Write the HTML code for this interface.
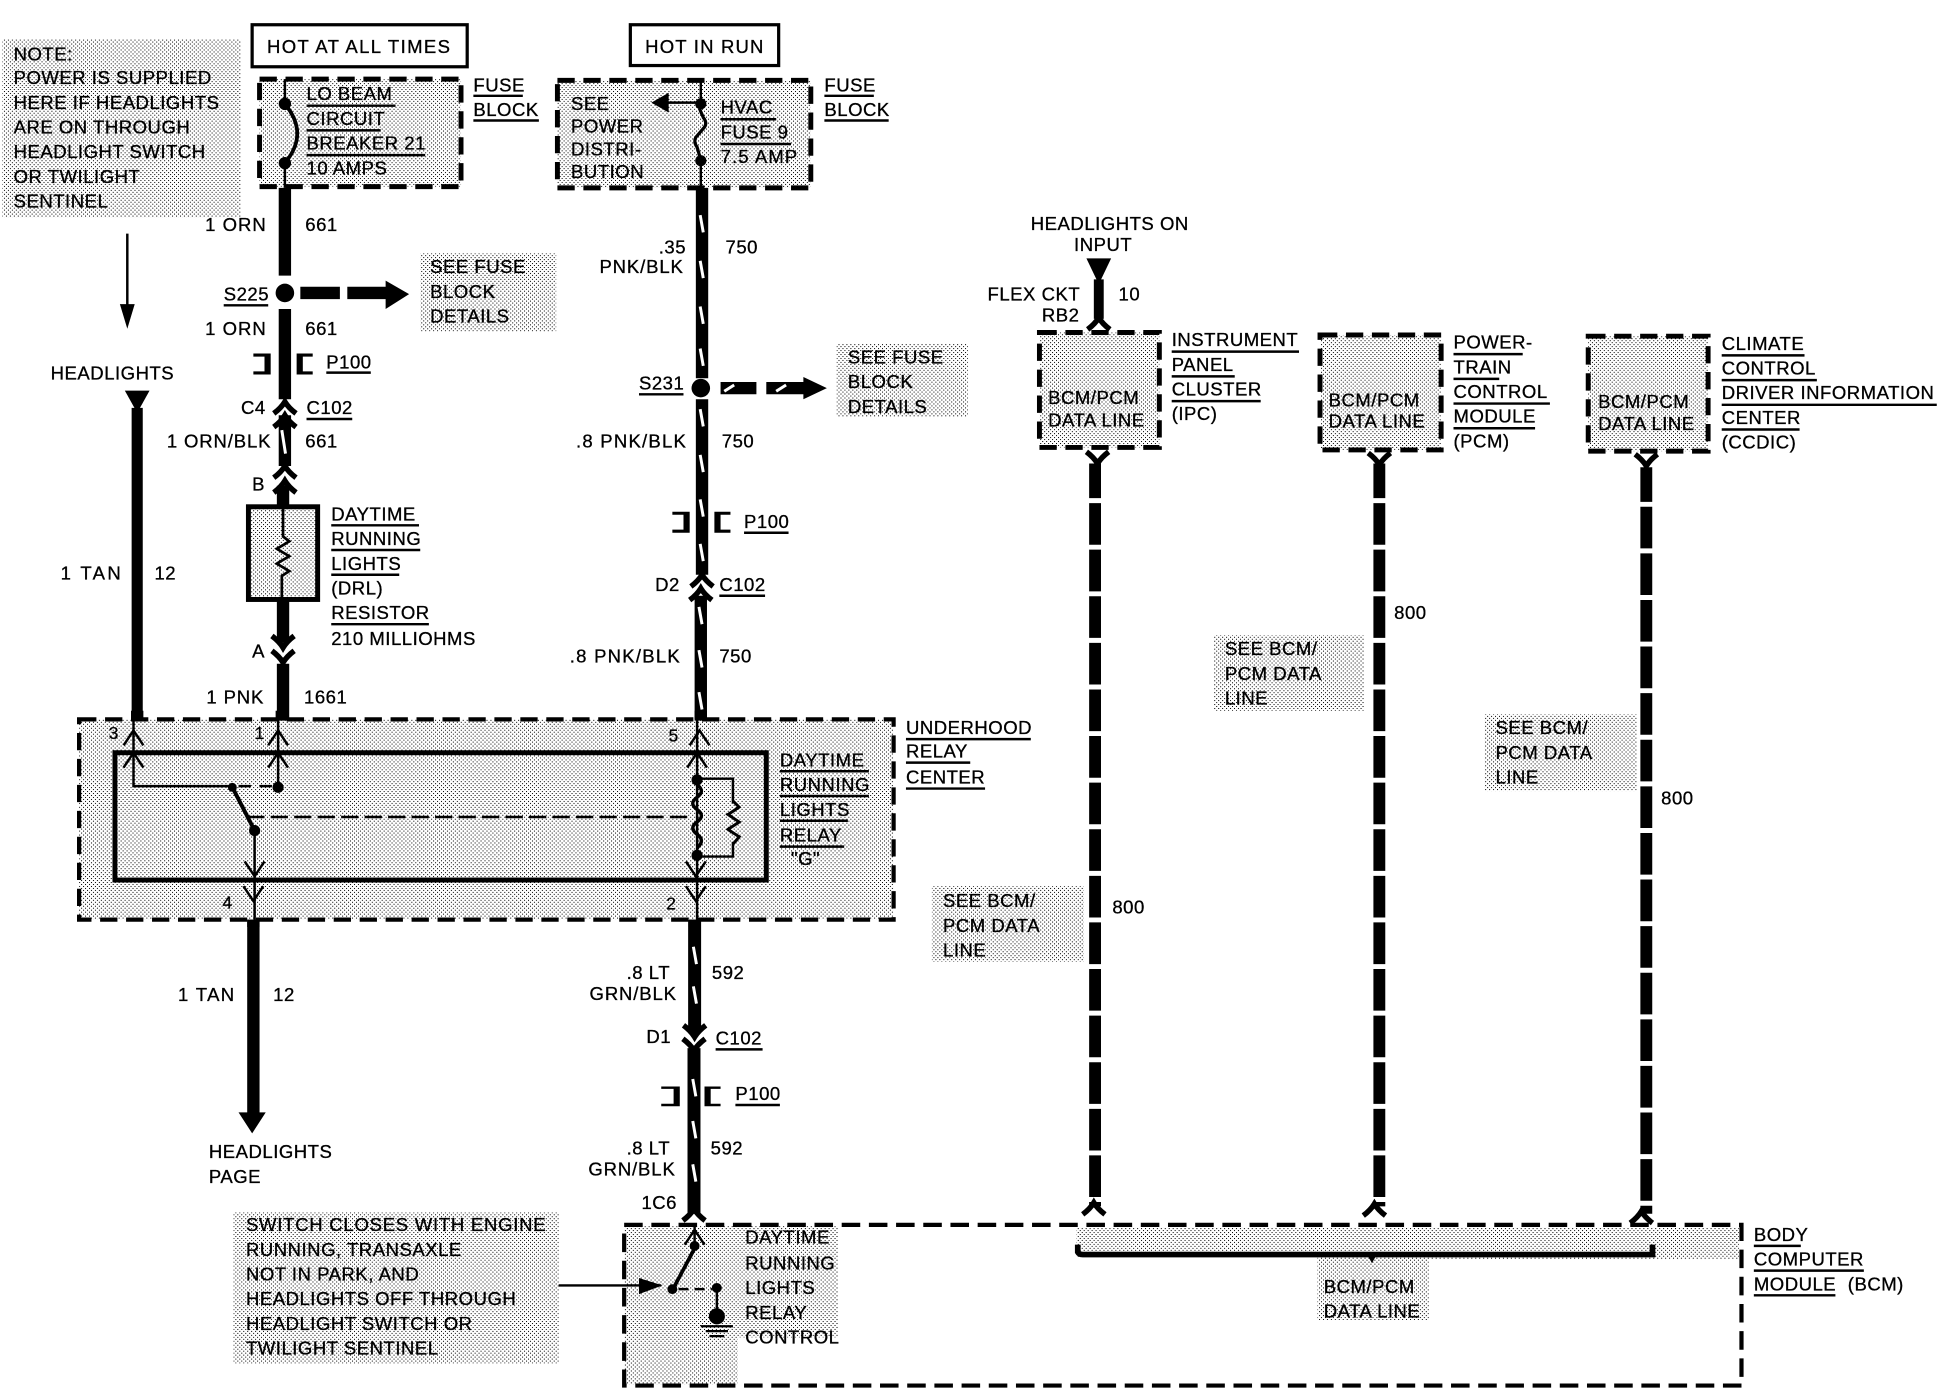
<!DOCTYPE html>
<html><head><meta charset="utf-8"><style>
html,body{margin:0;padding:0;background:#fff}
svg{display:block}
text{font-family:"Liberation Sans",sans-serif;font-size:15px;letter-spacing:.42px;fill:#000;stroke:#000;stroke-width:.25px}
.u{fill:none;stroke:#000;stroke-width:2}
.n{fill:none;stroke:#000;stroke-width:2}
.d{fill:url(#st);stroke:#000;stroke-width:4;stroke-dasharray:14 7}
.s{fill:url(#st)}
.w{fill:none;stroke:#000;stroke-width:10}
.sl{fill:none;stroke:#fff;stroke-width:2.4}
.dl{fill:none;stroke:#000;stroke-width:9.6;stroke-dasharray:33.7 4;stroke-dashoffset:5.7}
</style></head><body>
<svg xmlns="http://www.w3.org/2000/svg" width="1938" height="1392" viewBox="0 0 1568 1126.2">
<defs>
<pattern id="st" width="3.2" height="3.2" patternUnits="userSpaceOnUse"><rect width="3.2" height="3.2" fill="#fff"/><rect width=".82" height=".82" fill="#000"/><rect x="1.6" y="1.6" width=".82" height=".82" fill="#000"/></pattern>
<path id="up" d="M-9 5.5Q-3 1 0-4Q3 1 9 5.5" fill="none" stroke="#000" stroke-width="4.4"/>
<path id="dn" d="M-9-5.5Q-3-1 0 4Q3-1 9-5.5" fill="none" stroke="#000" stroke-width="4.4"/>
<path id="tu" d="M-8 7L0-5L8 7" fill="none" stroke="#000" stroke-width="2"/>
<path id="td" d="M-8-7L0 5L8-7" fill="none" stroke="#000" stroke-width="2"/>
</defs>
<rect width="1568" height="1126.2" fill="#fff"/>

<!-- stipple blocks -->
<rect class="s" x="2" y="32" width="193" height="144"/>
<rect class="s" x="340" y="205" width="110" height="63"/>
<rect class="s" x="677" y="278" width="106" height="59"/>
<rect class="s" x="754" y="717" width="123" height="61"/>
<rect class="s" x="982" y="514" width="122" height="61"/>
<rect class="s" x="1201" y="578" width="123" height="62"/>
<rect class="s" x="189" y="981" width="263" height="122"/>

<!-- top boxes -->
<rect x="204" y="20" width="174" height="34" fill="#fff" stroke="#000" stroke-width="2.6"/>
<rect x="510" y="20" width="120" height="33" fill="#fff" stroke="#000" stroke-width="2.6"/>
<text x="216" y="43" style="letter-spacing:1.1px">HOT AT ALL TIMES</text>
<text x="522" y="43" style="letter-spacing:.95px">HOT IN RUN</text>

<!-- fuse block 1 -->
<rect class="d" x="210" y="64" width="163" height="87"/>
<path class="n" d="M230.5 64V83M230.5 132V152"/>
<circle cx="230.5" cy="84" r="5"/><circle cx="230.5" cy="132" r="5"/>
<path d="M232 86Q249 108 232 130" fill="none" stroke="#000" stroke-width="3"/>
<text x="248" y="81">LO BEAM</text><path class="u" d="M248 85.5H320"/>
<text x="248" y="101">CIRCUIT</text><path class="u" d="M248 105.5H308"/>
<text x="248" y="121">BREAKER 21</text><path class="u" d="M248 125.5H344"/>
<text x="248" y="141">10 AMPS</text>
<text x="383" y="74">FUSE</text><path class="u" d="M383 77.5H423"/>
<text x="383" y="94">BLOCK</text><path class="u" d="M383 97.5H436"/>

<!-- fuse block 2 -->
<rect class="d" x="451" y="65" width="205" height="87"/>
<path class="n" d="M567 65V84M567 130V152M567 83H538"/>
<path d="M527 83L541 75V91Z"/>
<circle cx="567" cy="84" r="4.5"/><circle cx="567" cy="130" r="4.5"/>
<path d="M566 88L569 95Q573 100 569 104L563 111Q561 115 564 119L566 126" fill="none" stroke="#000" stroke-width="2.6"/>
<text x="462" y="89">SEE</text>
<text x="462" y="107">POWER</text>
<text x="462" y="126">DISTRI-</text>
<text x="462" y="144">BUTION</text>
<text x="583" y="92">HVAC</text><path class="u" d="M583 96.5H628"/>
<text x="583" y="112">FUSE 9</text><path class="u" d="M583 116.5H640"/>
<text x="583" y="132" style="letter-spacing:.9px">7.5 AMP</text>
<text x="667" y="74">FUSE</text><path class="u" d="M667 77.5H707"/>
<text x="667" y="94">BLOCK</text><path class="u" d="M667 97.5H719"/>

<!-- left note -->
<text x="11" y="49">NOTE:</text>
<text x="11" y="68">POWER IS SUPPLIED</text>
<text x="11" y="88">HERE IF HEADLIGHTS</text>
<text x="11" y="108">ARE ON THROUGH</text>
<text x="11" y="128">HEADLIGHT SWITCH</text>
<text x="11" y="148">OR TWILIGHT</text>
<text x="11" y="168">SENTINEL</text>
<path class="n" d="M103 189V250"/><path d="M97 246H109L103 266Z"/>
<text x="41" y="307">HEADLIGHTS</text>
<path d="M101 316H121L111 334Z"/>
<path class="w" d="M111 330V582" style="stroke-width:9"/>
<text x="49" y="469" style="letter-spacing:1.9px">1 TAN</text><text x="125" y="469">12</text>

<!-- wire 661 -->
<path class="w" d="M230.5 152V223M230.5 250V323M230.5 336V377"/>
<path class="sl" d="M228 348L231 367"/>
<circle cx="230.5" cy="237" r="7.5"/>
<path class="w" d="M243 237H275M281 237H313"/><path d="M312 227L331 238L312 250Z"/>
<text x="166" y="187" style="letter-spacing:.8px">1 ORN</text><text x="247" y="187">661</text>
<text x="181" y="243">S225</text><path class="u" d="M181 247H217"/>
<text x="348" y="221">SEE FUSE</text><text x="348" y="241">BLOCK</text><text x="348" y="261">DETAILS</text>
<text x="166" y="271" style="letter-spacing:.8px">1 ORN</text><text x="247" y="271">661</text>
<path d="M205 286H219V303H205V300.5H214V288.5H205Z"/>
<path d="M253 286H240V303H253V300.5H245V288.5H253Z"/>
<text x="264" y="298">P100</text><path class="u" d="M264 301.5H300"/>
<text x="195" y="335">C4</text><text x="248" y="335">C102</text><path class="u" d="M248 339H285"/>
<use href="#up" x="230.5" y="329"/><use href="#up" x="230.5" y="340"/>
<text x="135" y="362" style="letter-spacing:.7px">1 ORN/BLK</text><text x="247" y="362">661</text>
<use href="#up" x="230.5" y="381"/><use href="#up" x="230.5" y="393"/>
<text x="204" y="397">B</text>
<path class="w" d="M229 393V412"/>
<rect class="s" x="201" y="410" width="56" height="75" stroke="#000" stroke-width="4"/>
<path class="n" d="M229 410V434L234 438L224 444L234 450L224 456L234 462L228 466V485" style="stroke-width:2.2"/>
<path class="w" d="M229 485V520M229 537V582"/>
<use href="#dn" x="229" y="520"/><use href="#dn" x="229" y="532"/>
<text x="204" y="532">A</text>
<text x="268" y="421">DAYTIME</text><path class="u" d="M268 425H339"/>
<text x="268" y="441">RUNNING</text><path class="u" d="M268 445H340"/>
<text x="268" y="461">LIGHTS</text><path class="u" d="M268 465H323"/>
<text x="268" y="481">(DRL)</text>
<text x="268" y="501">RESISTOR</text><path class="u" d="M268 505H347"/>
<text x="268" y="522">210 MILLIOHMS</text>
<text x="167" y="569" style="letter-spacing:.7px">1 PNK</text><text x="246" y="569">1661</text>

<!-- wire 750 -->
<path class="w" d="M568 152V306M568 323V465M567 482V582"/>
<circle cx="567" cy="314" r="7.5"/>
<path class="w" d="M583 314H612M620 314H652"/><path d="M650 305L669 314L650 323Z"/>
<path class="sl" d="M566.5 174l2.5 14M566.5 211l2.5 14M566.5 248l2.5 14M566.5 282l2.5 14M566.5 331l2.5 14M566.5 368l2.5 14M566.5 404l2.5 14M566.5 440l2.5 14M565.5 491l2.5 14M565.5 526l2.5 14M565.5 560l2.5 14M594 311.5l-8 5M636 311.5l-8 5"/>
<text x="533" y="205">.35</text><text x="485" y="221" style="letter-spacing:.7px">PNK/BLK</text><text x="587" y="205">750</text>
<text x="517" y="315">S231</text><path class="u" d="M517 319H553"/>
<text x="686" y="294">SEE FUSE</text><text x="686" y="314">BLOCK</text><text x="686" y="334">DETAILS</text>
<text x="466" y="362" style="letter-spacing:1px">.8 PNK/BLK</text><text x="584" y="362">750</text>
<path d="M544 414H558V431H544V428.5H553V416.5H544Z"/>
<path d="M591 414H578V431H591V428.5H583V416.5H591Z"/>
<text x="602" y="427">P100</text><path class="u" d="M602 431H638"/>
<use href="#up" x="568" y="469"/><use href="#up" x="567" y="480"/>
<text x="530" y="478">D2</text><text x="582" y="478">C102</text><path class="u" d="M582 482H619"/>
<text x="461" y="536" style="letter-spacing:1px">.8 PNK/BLK</text><text x="582" y="536">750</text>

<!-- underhood relay center -->
<rect class="d" x="64" y="582" width="659" height="162" style="stroke-width:3.4"/>
<rect class="s" x="93" y="609" width="527" height="103" stroke="#000" stroke-width="4"/>
<path class="w" d="M111 575V583M228 575V583M567 575V583M205 744V750M562 744V750"/>
<path class="n" d="M108 582V636H188M225 582V636M206 672V744M564 582V693M564 693V744M564 630H593V650M593 681V693H564"/>
<use href="#tu" x="108" y="596"/><use href="#tu" x="225" y="596"/><use href="#tu" x="566" y="596"/>
<use href="#tu" x="108" y="614"/><use href="#tu" x="225" y="614"/><use href="#tu" x="564" y="614"/>
<use href="#td" x="206" y="704"/><use href="#td" x="563" y="704"/><use href="#td" x="205" y="724"/><use href="#td" x="563" y="724"/>
<circle cx="188" cy="637" r="3.6"/><circle cx="225" cy="637" r="4.5"/>
<circle cx="206" cy="672" r="4.5"/><circle cx="564" cy="631" r="4.5"/><circle cx="564" cy="692" r="4.5"/>
<path d="M188 637L206 672" stroke="#000" stroke-width="3.2" fill="none"/>
<path d="M193 636H225" stroke="#000" stroke-width="2" stroke-dasharray="10 7" fill="none"/>
<path d="M200 661H558" stroke="#000" stroke-width="2" stroke-dasharray="14 5" fill="none"/>
<path d="M564 635Q571 640 564 645Q557 650 564 655Q571 660 564 665Q557 670 564 675Q571 680 564 686" fill="none" stroke="#000" stroke-width="2.8"/>
<path d="M593 648L598 653L589 659L598 665L589 671L598 677L593 683" fill="none" stroke="#000" stroke-width="2.4"/>
<text x="88" y="598" style="font-size:14px">3</text><text x="206" y="598" style="font-size:14px">1</text><text x="541" y="600" style="font-size:14px">5</text>
<text x="180" y="735" style="font-size:14px">4</text><text x="539" y="736" style="font-size:14px">2</text>
<text x="631" y="620">DAYTIME</text><path class="u" d="M631 624H703"/>
<text x="631" y="640">RUNNING</text><path class="u" d="M631 644H703"/>
<text x="631" y="660">LIGHTS</text><path class="u" d="M631 664H686"/>
<text x="631" y="681">RELAY</text><path class="u" d="M631 685H683"/>
<text x="640" y="700">"G"</text>
<text x="733" y="594">UNDERHOOD</text><path class="u" d="M733 598H834"/>
<text x="733" y="613">RELAY</text><path class="u" d="M733 617H785"/>
<text x="733" y="634">CENTER</text><path class="u" d="M733 638H797"/>

<!-- lower left -->
<path class="w" d="M205 744V902"/>
<path d="M193 900H215L204 917Z"/>
<text x="144" y="810" style="letter-spacing:1.1px">1 TAN</text><text x="221" y="810">12</text>
<text x="169" y="937">HEADLIGHTS</text><text x="169" y="957">PAGE</text>

<!-- lower centre wire -->
<path class="w" d="M562 744V836M561.5 848V982" style="stroke-width:10.5"/>
<path class="sl" d="M561 766l2.5 14M561 798l2.5 14M560.5 873l2.5 14M560.5 907l2.5 14M560.5 942l2.5 14"/>
<use href="#dn" x="562" y="835"/><use href="#dn" x="561.5" y="846"/>
<text x="507" y="792">.8 LT</text><text x="477" y="809" style="letter-spacing:.7px">GRN/BLK</text><text x="576" y="792">592</text>
<text x="523" y="844">D1</text><text x="579" y="845">C102</text><path class="u" d="M579 849H617"/>
<path d="M535 879H550V895H535V893H545V881H535Z"/>
<path d="M583 879H570V895H583V893H575V881H583Z"/>
<text x="595" y="890">P100</text><path class="u" d="M595 894H631"/>
<text x="507" y="934">.8 LT</text><text x="476" y="951" style="letter-spacing:.7px">GRN/BLK</text><text x="575" y="934">592</text>
<text x="519" y="978">1C6</text>
<use href="#up" x="561.5" y="982"/>

<!-- BCM -->
<path class="s" d="M505 992H678V1082H597V1120H505Z"/>
<path class="s" d="M871 993H1407V1019H1156V1068H1066V1017H871Z"/>
<rect x="505" y="991" width="904" height="130" fill="none" stroke="#000" stroke-width="3.4" stroke-dasharray="15 7"/>
<path class="n" d="M452 1040H535"/><path d="M517 1034L536 1040L517 1047Z"/>
<use href="#tu" x="562" y="1000"/>
<path class="n" d="M562 992V1011"/>
<circle cx="562" cy="1008" r="4"/><circle cx="544" cy="1043" r="4"/><circle cx="580" cy="1042" r="4"/>
<path d="M562 1010L545 1042" stroke="#000" stroke-width="3" fill="none"/>
<path d="M549 1043H576" stroke="#000" stroke-width="2" stroke-dasharray="8 5" fill="none"/>
<path class="n" d="M580 1042V1062"/><circle cx="580" cy="1065" r="6.5"/>
<path class="n" d="M567 1073H593M571 1077H589M574 1081H586" style="stroke-width:1.8"/>
<text x="199" y="996" style="letter-spacing:.6px">SWITCH CLOSES WITH ENGINE</text>
<text x="199" y="1016">RUNNING, TRANSAXLE</text>
<text x="199" y="1036">NOT IN PARK, AND</text>
<text x="199" y="1056">HEADLIGHTS OFF THROUGH</text>
<text x="199" y="1076">HEADLIGHT SWITCH OR</text>
<text x="199" y="1096">TWILIGHT SENTINEL</text>
<text x="603" y="1006">DAYTIME</text><text x="603" y="1027">RUNNING</text><text x="603" y="1047">LIGHTS</text><text x="603" y="1067">RELAY</text><text x="603" y="1087">CONTROL</text>
<path d="M872 1007V1013Q873 1015 876 1015H1337V1007" fill="none" stroke="#000" stroke-width="4.6"/>
<path d="M1106 1015H1114L1110 1022Z"/>
<text x="1071" y="1046">BCM/PCM</text><text x="1071" y="1066">DATA LINE</text>
<text x="1419" y="1004">BODY</text><path class="u" d="M1419 1008H1457"/>
<text x="1419" y="1024">COMPUTER</text><path class="u" d="M1419 1028H1508"/>
<text x="1419" y="1044">MODULE</text><path class="u" d="M1419 1048H1485"/><text x="1495" y="1044">(BCM)</text>

<!-- right modules -->
<path d="M879 209H899L889 230Z"/>
<path class="w" d="M889 226V258" style="stroke-width:8"/>
<use href="#up" x="889" y="261"/>
<text x="834" y="186">HEADLIGHTS ON</text><text x="869" y="203">INPUT</text>
<text x="799" y="243">FLEX CKT</text><text x="905" y="243">10</text><text x="843" y="260">RB2</text>
<rect class="d" x="841" y="269" width="97" height="93"/>
<rect class="d" x="1068" y="271" width="98" height="93"/>
<rect class="d" x="1285" y="272" width="97" height="93"/>
<text x="848" y="327">BCM/PCM</text><text x="848" y="345">DATA LINE</text>
<text x="1075" y="329">BCM/PCM</text><text x="1075" y="346">DATA LINE</text>
<text x="1293" y="330">BCM/PCM</text><text x="1293" y="348">DATA LINE</text>
<text x="948" y="280">INSTRUMENT</text><path class="u" d="M948 284.5H1051"/>
<text x="948" y="300">PANEL</text><path class="u" d="M948 304.5H999"/>
<text x="948" y="320">CLUSTER</text><path class="u" d="M948 324.5H1020"/>
<text x="948" y="340">(IPC)</text>
<text x="1176" y="282">POWER-</text><path class="u" d="M1176 286.5H1232"/>
<text x="1176" y="302">TRAIN</text><path class="u" d="M1176 306.5H1213"/>
<text x="1176" y="322">CONTROL</text><path class="u" d="M1176 326.5H1254"/>
<text x="1176" y="342">MODULE</text><path class="u" d="M1176 346.5H1242"/>
<text x="1176" y="362">(PCM)</text>
<text x="1393" y="283">CLIMATE</text><path class="u" d="M1393 287.5H1460"/>
<text x="1393" y="303">CONTROL</text><path class="u" d="M1393 307.5H1470"/>
<text x="1393" y="323">DRIVER INFORMATION</text><path class="u" d="M1393 327.5H1567"/>
<text x="1393" y="343">CENTER</text><path class="u" d="M1393 347.5H1456"/>
<text x="1393" y="363">(CCDIC)</text>

<path class="dl" d="M886 375V976"/><path class="dl" d="M1116 375V976"/><path class="dl" d="M1332 378V982"/>
<use href="#dn" x="888" y="371"/><use href="#dn" x="1116" y="372"/><use href="#dn" x="1332" y="373"/>
<use href="#up" x="885" y="977"/><use href="#up" x="1112" y="978"/><use href="#up" x="1328" y="984"/>
<text x="900" y="739">800</text><text x="1128" y="501">800</text><text x="1344" y="651">800</text>
<text x="763" y="734">SEE BCM/</text><text x="763" y="754">PCM DATA</text><text x="763" y="774">LINE</text>
<text x="991" y="530">SEE BCM/</text><text x="991" y="550">PCM DATA</text><text x="991" y="570">LINE</text>
<text x="1210" y="594">SEE BCM/</text><text x="1210" y="614">PCM DATA</text><text x="1210" y="634">LINE</text>
</svg>
</body></html>
